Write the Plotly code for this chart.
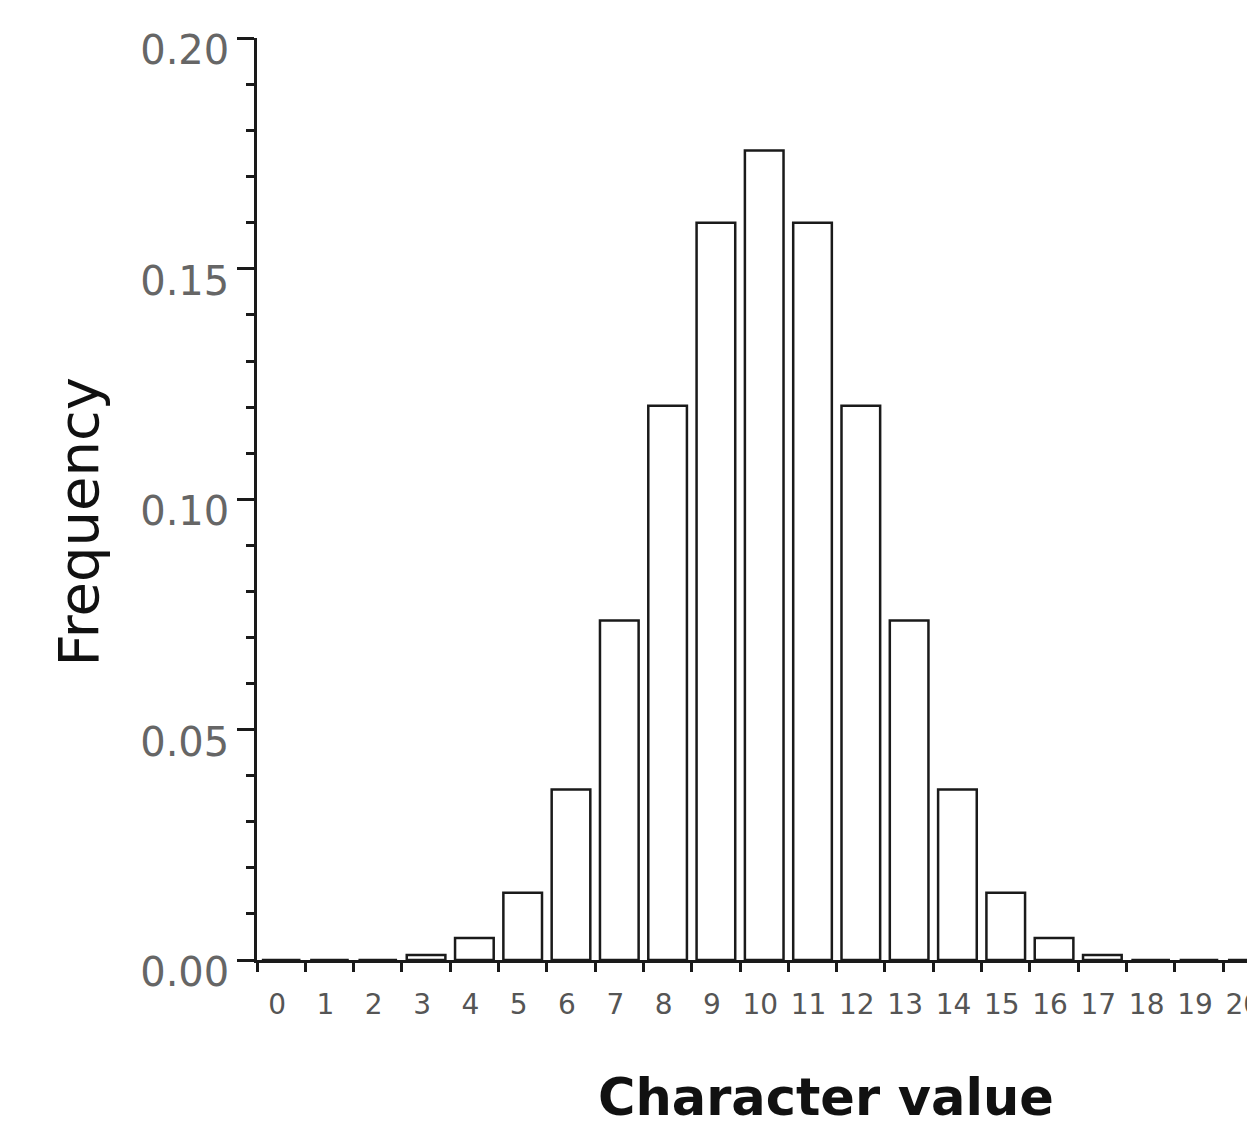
import plotly.graph_objects as go

categories = list(range(0, 21))
tick_labels = [str(c) for c in categories]
frequencies = [0.0, 0.0, 0.0, 0.0011, 0.0048, 0.0146, 0.0370, 0.0737, 0.1203,
               0.1600, 0.1757, 0.1600, 0.1203, 0.0737, 0.0370, 0.0146, 0.0048,
               0.0011, 0.0, 0.0, 0.0]
y_ticks = [0.0, 0.05, 0.10, 0.15, 0.20]

fig = go.Figure()
fig.add_trace(go.Bar(
    x=categories, y=frequencies, width=0.8,
    marker=dict(color="white", line=dict(color="#1a1a1a", width=2.5)),
    showlegend=False,
))

fig.update_layout(
    width=1247, height=1120,
    margin=dict(l=249, r=0, t=30, b=168, autoexpand=False),
    plot_bgcolor="white", paper_bgcolor="white",
    xaxis=dict(
        range=[-0.5, 20.16], tickvals=categories, ticktext=tick_labels,
        ticks="", showgrid=False, zeroline=False, automargin=False,
        showline=True, linecolor="#1a1a1a", linewidth=2.5,
        tickfont=dict(family="DejaVu Sans", size=28, color="#555"),
        ticklabelstandoff=18, ticklabelshift=-4, ticklabeloverflow="allow",
        minor=dict(tick0=-0.5, dtick=1, ticks="outside", ticklen=9,
                   tickcolor="#1a1a1a", tickwidth=2.5, showgrid=False),
    ),
    yaxis=dict(
        range=[0, 0.2001], tickvals=y_ticks, tickformat=".2f",
        ticks="outside", ticklen=17, tickwidth=2.5, tickcolor="#1a1a1a",
        showgrid=False, zeroline=False, automargin=False,
        showline=True, linecolor="#1a1a1a", linewidth=2.5,
        tickfont=dict(family="DejaVu Sans", size=40, color="#666"),
        ticklabelshift=12, ticklabeloverflow="allow",
        minor=dict(dtick=0.01, ticks="outside", ticklen=8,
                   tickcolor="#1a1a1a", tickwidth=2.5, showgrid=False),
    ),
    annotations=[
        dict(text="Frequency", x=-0.179, y=0.475, xref="paper", yref="paper",
             textangle=-90, showarrow=False, xanchor="center", yanchor="middle",
             font=dict(family="DejaVu Sans", size=56, color="#111")),
        dict(text="<b>Character value</b>", x=0.570, y=-0.1486, xref="paper", yref="paper",
             showarrow=False, xanchor="center", yanchor="middle",
             font=dict(family="DejaVu Sans", size=51, color="#111")),
    ],
)

fig.write_html("out.html")
